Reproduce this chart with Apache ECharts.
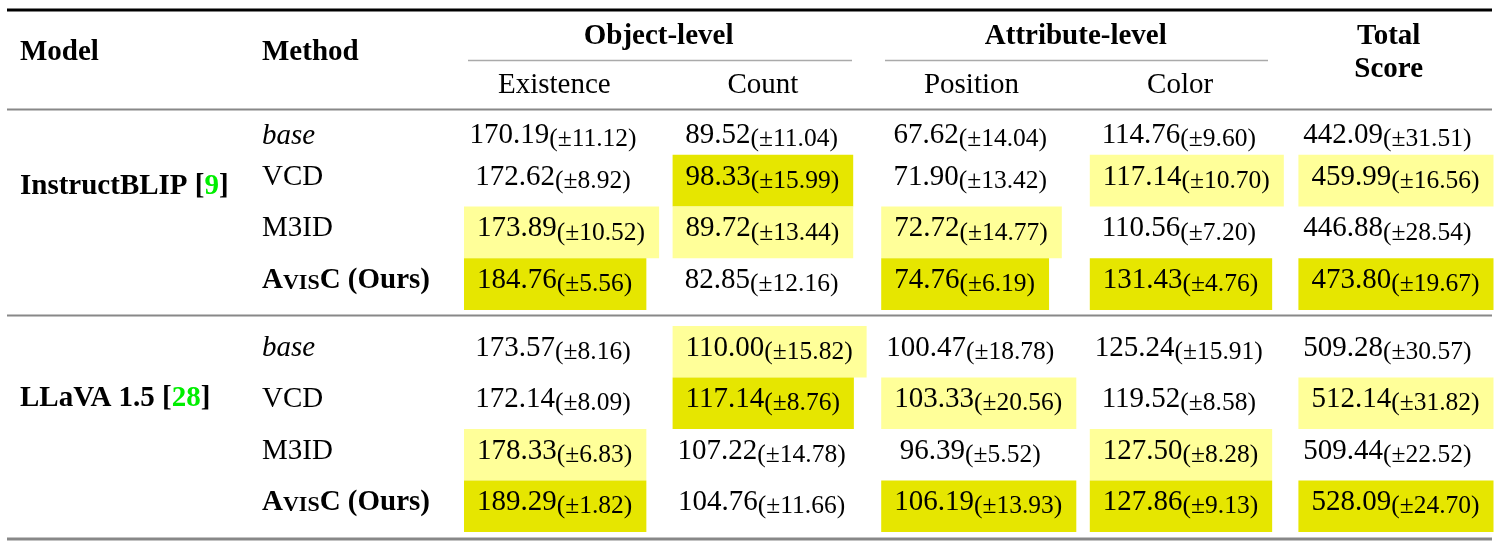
<!DOCTYPE html>
<html>
<head>
<meta charset="utf-8">
<title>Object / attribute hallucination scores</title>
<script src="https://cdn.jsdelivr.net/npm/echarts@6/dist/echarts.min.js"></script>
<style>
  html, body { margin: 0; padding: 0; background: #fff; }
  #chart { width: 1500px; height: 547px; }
</style>
</head>
<body>
<div id="chart"></div>
<script>
const columns = ['Existence', 'Count', 'Position', 'Color', 'Total Score']
const methods = ['base', 'VCD', 'M3ID', 'AvisC (Ours)']
const models = ['InstructBLIP', 'LLaVA 1.5']
const modelRefs = ['9', '28']

// rows follow `methods`, cols follow `columns`
const blipMean = [
  [170.19, 89.52, 67.62, 114.76, 442.09],
  [172.62, 98.33, 71.90, 117.14, 459.99],
  [173.89, 89.72, 72.72, 110.56, 446.88],
  [184.76, 82.85, 74.76, 131.43, 473.80]
]
const blipStd = [
  [11.12, 11.04, 14.04, 9.60, 31.51],
  [8.92, 15.99, 13.42, 10.70, 16.56],
  [10.52, 13.44, 14.77, 7.20, 28.54],
  [5.56, 12.16, 6.19, 4.76, 19.67]
]
// 2 = best (dark yellow), 1 = second (light yellow)
const blipMark = [
  [0, 0, 0, 0, 0],
  [0, 2, 0, 1, 1],
  [1, 1, 1, 0, 0],
  [2, 0, 2, 2, 2]
]

const llavaMean = [
  [173.57, 110.00, 100.47, 125.24, 509.28],
  [172.14, 117.14, 103.33, 119.52, 512.14],
  [178.33, 107.22, 96.39, 127.50, 509.44],
  [189.29, 104.76, 106.19, 127.86, 528.09]
]
const llavaStd = [
  [8.16, 15.82, 18.78, 15.91, 30.57],
  [8.09, 8.76, 20.56, 8.58, 31.82],
  [6.83, 14.78, 5.52, 8.28, 22.52],
  [1.82, 11.66, 13.93, 9.13, 24.70]
]
const llavaMark = [
  [0, 1, 0, 0, 0],
  [0, 2, 1, 0, 1],
  [1, 0, 0, 1, 0],
  [2, 0, 2, 2, 2]
]

const FONT = '"Liberation Serif", "Times New Roman", serif'
const HL = ['', '#ffff99', '#e6e600']
const GRID_LEFT = 459
const GRID_W = 1043
const BAND = GRID_W / columns.length
const MAIN_FS = 29
const SUB_FS = 25.5

const measure = document.createElement('canvas').getContext('2d')
function textWidth(str, size) {
  measure.font = size + 'px ' + FONT
  return measure.measureText(str).width
}

function buildCells(mean, std, mark) {
  const out = []
  mean.forEach((row, r) => {
    row.forEach((v, c) => out.push([c, r, v, std[r][c], mark[r][c]]))
  })
  return out
}

const cellRich = {
  m: { fontSize: MAIN_FS, fontFamily: FONT, lineHeight: 34, fill: '#000' },
  s: { fontSize: SUB_FS, fontFamily: FONT, lineHeight: 18, verticalAlign: 'bottom', fill: '#000' }
}

function cellRenderer(group) {
  return function(params, api) {
    const col = api.value(0)
    const row = api.value(1)
    const mean = api.value(2).toFixed(2)
    const sub = '(±' + api.value(3).toFixed(2) + ')'
    const mark = api.value(4)
    const pt = api.coord([col, row])
    const bw = api.size([1, 0])[0]
    const bh = api.size([0, 1])[1]
    const left = pt[0] - bw / 2
    // first row of the first block sits a bit lower in the source table
    const ty = pt[1] + (group === 0 && row === 0 ? 6.5 : -3.5)
    const w = textWidth(mean, MAIN_FS) + textWidth(sub, SUB_FS)
    const children = []
    if (mark) {
      children.push({
        type: 'rect',
        shape: { x: left + 5, y: pt[1] - bh / 2, width: w + 27, height: bh },
        style: { fill: HL[mark] }
      })
    }
    children.push({
      type: 'text',
      style: {
        x: mark ? left + 18 : left + 94,
        y: ty,
        text: '{m|' + mean + '}{s|' + sub + '}',
        rich: cellRich,
        align: mark ? 'left' : 'center',
        verticalAlign: 'middle'
      }
    })
    return { type: 'group', children }
  }
}

function methodLabel(group) {
  return function(v, i) {
    const k = group === 0 && i === 0 ? 'Low' : ''
    if (v === 'base') return '{it' + k + '|base}'
    if (v.indexOf('AvisC') === 0) return '{b|A}{sc|VIS}{b|C (Ours)}'
    return '{r' + k + '|' + v + '}'
  }
}

const labelRich = {
  r: { fontSize: 29, fontFamily: FONT, lineHeight: 34, color: '#000', padding: [0, 0, 7, 0] },
  rLow: { fontSize: 29, fontFamily: FONT, lineHeight: 34, color: '#000', padding: [14, 0, 0, 0] },
  it: { fontSize: 29, fontFamily: FONT, fontStyle: 'italic', lineHeight: 34, color: '#000', padding: [0, 0, 7, 0] },
  itLow: { fontSize: 29, fontFamily: FONT, fontStyle: 'italic', lineHeight: 34, color: '#000', padding: [14, 0, 0, 0] },
  b: { fontSize: 29, fontFamily: FONT, fontWeight: 'bold', lineHeight: 34, color: '#000', padding: [0, 0, 7, 0] },
  sc: { fontSize: 22, fontFamily: FONT, fontWeight: 'bold', lineHeight: 29, color: '#000', padding: [0, 0, 7, 0], verticalAlign: 'bottom' }
}

function yAxisFor(group) {
  return {
    type: 'category',
    gridIndex: group,
    data: methods,
    inverse: true,
    axisLine: { show: false },
    axisTick: { show: false },
    splitLine: { show: false },
    axisLabel: {
      align: 'left',
      margin: GRID_LEFT - 262,
      formatter: methodLabel(group),
      rich: labelRich
    }
  }
}

function xAxisFor(group) {
  return {
    type: 'category',
    gridIndex: group,
    data: columns,
    show: false
  }
}

function hline(x1, x2, y, w, color) {
  return { type: 'line', shape: { x1, y1: y, x2, y2: y }, style: { stroke: color, lineWidth: w }, silent: true }
}

function txt(x, y, text, font, align) {
  return {
    type: 'text', x, y, silent: true,
    style: { text, font, fill: '#000', align: align || 'left', textAlign: align || 'left', verticalAlign: 'middle', textVerticalAlign: 'middle' }
  }
}

const colX = columns.map((c, i) => GRID_LEFT + BAND * (i + 0.5) - 9)
const BOLD = 'bold 29px ' + FONT
const REG = '29px ' + FONT

const modelRich = {
  b: { fontSize: 29, fontFamily: FONT, fontWeight: 'bold', fill: '#000' },
  g: { fontSize: 29, fontFamily: FONT, fontWeight: 'bold', fill: '#00ee00' }
}
const modelY = [187, 399]

const graphic = [
  hline(7, 1492, 10, 3, '#000'),
  hline(468, 852, 60.5, 1.5, '#aaa'),
  hline(885, 1268, 60.5, 1.5, '#aaa'),
  hline(7, 1492, 109.5, 2, '#888'),
  hline(7, 1492, 315.5, 2, '#888'),
  hline(7, 1492, 539, 3, '#888'),
  txt(20, 52.5, 'Model', BOLD),
  txt(262, 52.5, 'Method', BOLD),
  txt((colX[0] + colX[1]) / 2, 37, 'Object-level', BOLD, 'center'),
  txt((colX[2] + colX[3]) / 2, 37, 'Attribute-level', BOLD, 'center'),
  txt(colX[4], 37, columns[4].split(' ')[0], BOLD, 'center'),
  txt(colX[4], 70, columns[4].split(' ')[1], BOLD, 'center')
]
for (let i = 0; i < 4; i++) graphic.push(txt(colX[i], 85, columns[i], REG, 'center'))
models.forEach((m, i) => {
  graphic.push({
    type: 'text', x: 20, y: modelY[i], silent: true,
    style: {
      text: '{b|' + m + ' [}{g|' + modelRefs[i] + '}{b|]}',
      rich: modelRich, align: 'left', verticalAlign: 'middle'
    }
  })
})

const option = {
  animation: false,
  backgroundColor: '#fff',
  grid: [
    { left: GRID_LEFT, width: GRID_W, top: 103, height: 207, containLabel: false, outerBoundsMode: 'none' },
    { left: GRID_LEFT, width: GRID_W, top: 326, height: 206, containLabel: false, outerBoundsMode: 'none' }
  ],
  xAxis: [xAxisFor(0), xAxisFor(1)],
  yAxis: [yAxisFor(0), yAxisFor(1)],
  graphic,
  series: [
    {
      type: 'custom',
      name: models[0],
      xAxisIndex: 0,
      yAxisIndex: 0,
      renderItem: cellRenderer(0),
      encode: { x: 0, y: 1 },
      data: buildCells(blipMean, blipStd, blipMark)
    },
    {
      type: 'custom',
      name: models[1],
      xAxisIndex: 1,
      yAxisIndex: 1,
      renderItem: cellRenderer(1),
      encode: { x: 0, y: 1 },
      data: buildCells(llavaMean, llavaStd, llavaMark)
    }
  ]
}

const chart = echarts.init(document.getElementById('chart'))
chart.setOption(option)
</script>
</body>
</html>
